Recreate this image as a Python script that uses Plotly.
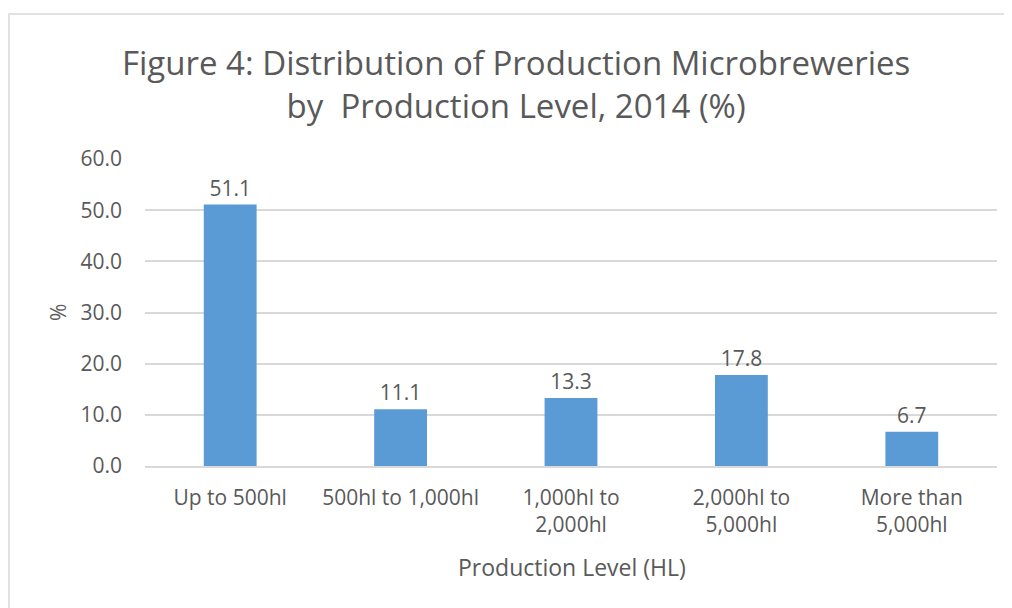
import plotly.graph_objects as go

categories = ["Up to 500hl", "500hl to 1,000hl", "1,000hl to<br>2,000hl", "2,000hl to<br>5,000hl", "More than<br>5,000hl"]
values = [51.1, 11.1, 13.3, 17.8, 6.7]
y_ticks = [0, 10, 20, 30, 40, 50, 60]
y_tick_labels = ["0.0", "10.0", "20.0", "30.0", "40.0", "50.0", "60.0"]

TEXT = "#595959"
GRID = "#D9D9D9"
FONT = "Open Sans"

# page has an 8px body margin; figure coords = page coords - 8
OFF = 8
W, H = 1004, 600
L, T = 145 - OFF, 159 - OFF
R = W - (997 - OFF)
B = H - (466 - OFF)
PW, PH = W - L - R, H - T - B


def px(xp):
    return (xp - OFF - L) / PW


def py(yp):
    return (H - B - (yp - OFF)) / PH


fig = go.Figure(go.Bar(
    x=categories, y=values,
    marker=dict(color="#5B9BD5", line=dict(width=0)),
    text=[f"{v:.1f}" for v in values],
    textposition="outside",
    textfont=dict(size=21, color=TEXT, family=FONT),
    cliponaxis=False,
))

fig.update_layout(
    width=W, height=H,
    margin=dict(l=L, r=R, t=T, b=B, autoexpand=False),
    paper_bgcolor="white", plot_bgcolor="white",
    bargap=0.69,
    showlegend=False,
    font=dict(family=FONT, color=TEXT, size=21),
    xaxis=dict(
        showgrid=False, showline=True, linecolor=GRID, linewidth=1.5,
        ticks="", tickfont=dict(size=21, color=TEXT), automargin=False,
        ticklabelstandoff=12,
    ),
    yaxis=dict(
        range=[0, 60], tickvals=y_ticks, ticktext=y_tick_labels,
        showgrid=True, gridcolor=GRID, gridwidth=1.5,
        zeroline=False, showline=False, ticks="", automargin=False,
        tickfont=dict(size=21, color=TEXT), ticklabelstandoff=22,
    ),
)

# Title
fig.add_annotation(
    text="Figure 4: Distribution of Production Microbreweries<br>by  Production Level, 2014 (%)",
    xref="paper", yref="paper", x=px(516), y=py(84),
    xanchor="center", yanchor="middle", showarrow=False,
    font=dict(size=33, color=TEXT, family=FONT),
)
# Axis titles
fig.add_annotation(
    text="Production Level (HL)", xref="paper", yref="paper",
    x=px(572), y=py(567), xanchor="center", yanchor="middle",
    showarrow=False, font=dict(size=23, color=TEXT, family=FONT),
)
fig.add_annotation(
    text="%", xref="paper", yref="paper", textangle=-90,
    x=px(58), y=py(313), xanchor="center", yanchor="middle",
    showarrow=False, font=dict(size=21, color=TEXT, family=FONT),
)

# Chart border (partially outside the visible window, as in the reference)
fig.add_shape(type="rect", xref="paper", yref="paper",
              x0=px(9), x1=1.1, y0=-0.6, y1=py(14),
              line=dict(color=GRID, width=1.5), fillcolor="rgba(0,0,0,0)", layer="below")

fig.write_html("out.html")
